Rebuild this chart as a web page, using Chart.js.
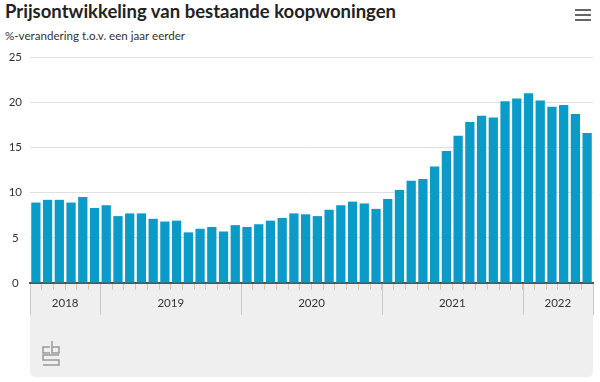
<!DOCTYPE html>
<html>
<head>
<meta charset="utf-8">
<script src="https://cdn.jsdelivr.net/npm/chart.js@4"></script>
<style>
  body { margin: 0; width: 600px; height: 382px; position: relative; background: #fff; overflow: hidden; font-family: Lato, "Open Sans", sans-serif; }
  .title { position: absolute; left: 5px; top: 0px; font-size: 18.5px; font-weight: bold; color: #222; white-space: nowrap; }
  .subtitle { position: absolute; left: 5px; top: 29px; font-size: 11.6px; color: #333; white-space: nowrap; }
  .menu { position: absolute; left: 575px; top: 9px; width: 16px; }
  .menu span { display: block; height: 2px; background: #666; margin-bottom: 3px; }
  canvas { position: absolute; left: 0; top: 0; }
</style>
</head>
<body>
<div class="title">Prijsontwikkeling van bestaande koopwoningen</div>
<div class="subtitle">%-verandering t.o.v. een jaar eerder</div>
<div class="menu"><span></span><span></span><span></span></div>
<canvas id="myChart" width="600" height="382"></canvas>
<script>
const months = [
  '2018-07','2018-08','2018-09','2018-10','2018-11','2018-12',
  '2019-01','2019-02','2019-03','2019-04','2019-05','2019-06','2019-07','2019-08','2019-09','2019-10','2019-11','2019-12',
  '2020-01','2020-02','2020-03','2020-04','2020-05','2020-06','2020-07','2020-08','2020-09','2020-10','2020-11','2020-12',
  '2021-01','2021-02','2021-03','2021-04','2021-05','2021-06','2021-07','2021-08','2021-09','2021-10','2021-11','2021-12',
  '2022-01','2022-02','2022-03','2022-04','2022-05','2022-06'
];
const years = ['2018', '2019', '2020', '2021', '2022'];
const priceChange = [
  8.9, 9.2, 9.2, 8.9, 9.5, 8.3,
  8.6, 7.4, 7.7, 7.7, 7.1, 6.8, 6.9, 5.6, 6.0, 6.2, 5.7, 6.4,
  6.2, 6.5, 6.9, 7.2, 7.7, 7.6, 7.4, 8.1, 8.6, 9.0, 8.8, 8.2,
  9.3, 10.3, 11.3, 11.5, 12.9, 14.6, 16.3, 17.8, 18.5, 18.3, 20.1, 20.4,
  21.0, 20.2, 19.5, 19.7, 18.7, 16.6
];
const yTicks = [0, 5, 10, 15, 20, 25];

const BAND_BOTTOM = 377;

// grey band under the axis with year labels and cbs logo
const yearBand = {
  id: 'yearBand',
  beforeDraw(chart) {
    const { ctx, chartArea } = chart;
    const l = chartArea.left, r = chartArea.right, t = chartArea.bottom, b = BAND_BOTTOM, rad = 6;
    ctx.save();
    ctx.fillStyle = '#efefef';
    ctx.beginPath();
    ctx.moveTo(l, t);
    ctx.lineTo(r, t);
    ctx.lineTo(r, b - rad);
    ctx.quadraticCurveTo(r, b, r - rad, b);
    ctx.lineTo(l + rad, b);
    ctx.quadraticCurveTo(l, b, l, b - rad);
    ctx.closePath();
    ctx.fill();
    ctx.restore();
  },
  afterDraw(chart) {
    const { ctx, chartArea } = chart;
    const x = chart.scales.x;
    const step = x.width / months.length;
    ctx.save();
    ctx.font = '11.5px Lato, "Open Sans", sans-serif';
    ctx.fillStyle = '#333';
    ctx.textAlign = 'center';
    ctx.textBaseline = 'middle';
    ctx.strokeStyle = '#c8c8c8';
    ctx.lineWidth = 1;
    years.forEach(y => {
      const idx = months.map((m, i) => m.startsWith(y) ? i : -1).filter(i => i >= 0);
      const left = x.getPixelForValue(idx[0]) - step / 2;
      const right = x.getPixelForValue(idx[idx.length - 1]) + step / 2;
      ctx.fillText(y, (left + right) / 2, chartArea.bottom + 20);
      [left, right].forEach(px => {
        ctx.beginPath();
        ctx.moveTo(Math.round(px) + 0.5, chartArea.bottom + 1);
        ctx.lineTo(Math.round(px) + 0.5, chartArea.bottom + 32);
        ctx.stroke();
      });
    });
    // cbs logo
    const lx = 43, ly = 341;
    ctx.strokeStyle = '#9a9a9a';
    ctx.lineWidth = 1.5;
    ctx.beginPath();
    ctx.moveTo(lx + 7, ly + 6); ctx.lineTo(lx, ly + 6); ctx.lineTo(lx, ly + 12); ctx.lineTo(lx + 7, ly + 12);
    ctx.moveTo(lx + 9, ly); ctx.lineTo(lx + 9, ly + 12); ctx.lineTo(lx + 16, ly + 12); ctx.lineTo(lx + 16, ly + 6); ctx.lineTo(lx + 9, ly + 6);
    ctx.moveTo(lx + 16, ly + 14); ctx.lineTo(lx, ly + 14); ctx.lineTo(lx, ly + 19); ctx.lineTo(lx + 16, ly + 19);
    ctx.lineTo(lx + 16, ly + 24); ctx.lineTo(lx, ly + 24);
    ctx.stroke();
    ctx.restore();
  }
};

new Chart(document.getElementById('myChart'), {
  type: 'bar',
  data: {
    labels: months,
    datasets: [{
      data: priceChange,
      backgroundColor: '#0b9bc9',
      barPercentage: 0.79,
      categoryPercentage: 1
    }]
  },
  options: {
    responsive: false,
    animation: false,
    layout: { padding: { top: 57, right: 7, left: 0, bottom: 0 } },
    plugins: { legend: { display: false }, tooltip: { enabled: false } },
    scales: {
      x: {
        grid: { offset: true, drawOnChartArea: false, tickLength: 7, color: '#d4c6b4' },
        border: { color: '#555', width: 2 },
        ticks: { display: false },
        afterFit(scale) { scale.height = 99; }
      },
      y: {
        min: 0, max: 25,
        afterBuildTicks(scale) { scale.ticks = yTicks.map(v => ({ value: v })); },
        grid: { color: '#e0e0e0', drawTicks: false },
        border: { display: false },
        ticks: { color: '#333', font: { size: 11.5, family: 'Lato, "Open Sans", sans-serif' }, padding: 8, crossAlign: 'center' },
        afterFit(scale) { scale.width = 30; }
      }
    }
  },
  plugins: [yearBand]
});
</script>
</body>
</html>
